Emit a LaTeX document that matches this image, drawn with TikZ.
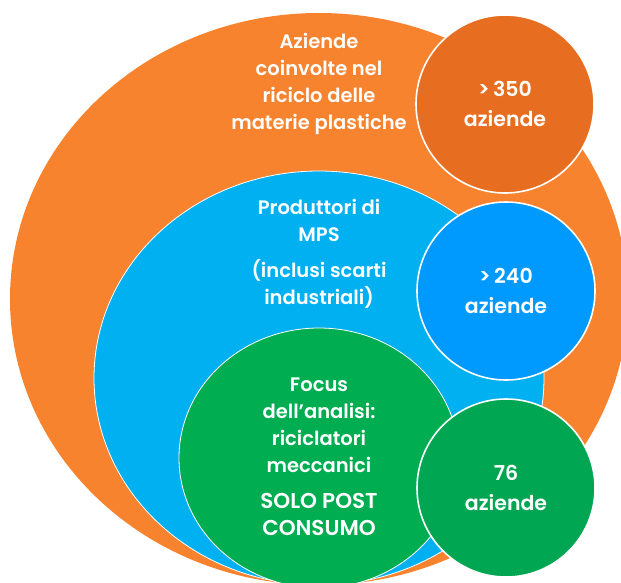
\documentclass[tikz,border=0pt]{standalone}
\usepackage{fontspec}
\setmainfont{Poppins}[BoldFont={Poppins SemiBold}]
\usetikzlibrary{shapes.geometric}

\definecolor{bigorange}{HTML}{F7832E}
\definecolor{darkorange}{HTML}{E76E21}
\definecolor{bigblue}{HTML}{00B0F0}
\definecolor{smallblue}{HTML}{0099FE}
\definecolor{biggreen}{HTML}{00AD50}
\definecolor{smallgreen}{HTML}{00A651}

\begin{document}
\begin{tikzpicture}[x=1pt, y=-1pt]

\tikzstyle{set}=[ellipse, inner sep=0pt]
\tikzstyle{count}=[circle, draw=white, line width=1.6pt, minimum size=178pt, inner sep=0pt]
\tikzstyle{lbl}=[text=white, align=center, font=\fontsize{19.5}{27}\selectfont\bfseries]

\useasboundingbox (0,0) rectangle (621,582);

% --- nested sets ---
\node[set, fill=bigorange, minimum width=618pt, minimum height=572pt] (plast) at (319,299) {};
\node[set, fill=bigblue, draw=white, line width=0.8pt, minimum width=450pt, minimum height=414pt] (mps) at (319,378) {};
\node[set, fill=biggreen, draw=white, line width=0.8pt, minimum width=280pt, minimum height=260pt] (focus) at (319,458) {};

% --- counts ---
\node[count, fill=darkorange] (n350) at (505,104) {};
\node[count, fill=smallblue] (n240) at (506,291) {};
\node[count, fill=smallgreen] (n76) at (506,488) {};

% --- labels ---
\node[lbl] (tplast) at (319,84) {Aziende\\coinvolte nel\\riciclo delle\\materie plastiche};
\node[lbl] (tmps) at (319,254) {Produttori di\\MPS\\[9pt](inclusi scarti\\industriali)};
\node[lbl] (tfocus) at (319,457) {Focus\\dell’analisi:\\riciclatori\\meccanici\\[9pt]{\fontsize{21.5}{27}\selectfont SOLO POST}\\{\fontsize{21.5}{27}\selectfont CONSUMO}};

\node[lbl, font=\fontsize{20.5}{27}\selectfont\bfseries] (t350) at (n350) {>\,350\\[3pt]aziende};
\node[lbl, font=\fontsize{20.5}{27}\selectfont\bfseries] (t240) at (n240) {>\,240\\[3pt]aziende};
\node[lbl, font=\fontsize{20.5}{27}\selectfont\bfseries] (t76) at (n76) {76\\[3pt]aziende};

\end{tikzpicture}
\end{document}
